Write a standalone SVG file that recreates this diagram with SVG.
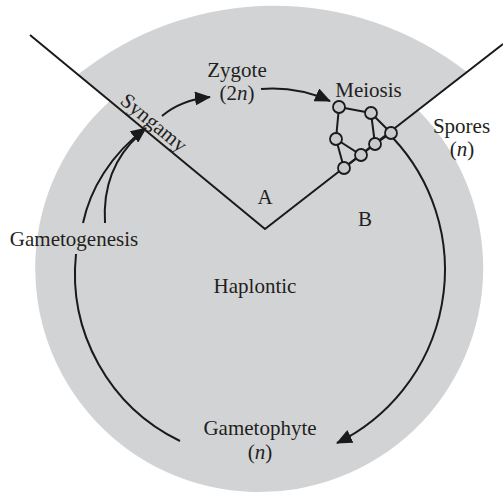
<svg xmlns="http://www.w3.org/2000/svg" width="503" height="496" viewBox="0 0 503 496">
<defs>
<style>
.ln{fill:none;stroke:#1a1a1a;stroke-width:2}
.ar{fill:none;stroke:#1a1a1a;stroke-width:2}
.nd{fill:#c9cacc;stroke:#1a1a1a;stroke-width:1.8}
.t{font-family:"Liberation Serif","Times New Roman",serif;font-size:21px;fill:#231f20;text-anchor:middle}
.i{font-style:italic}
</style>
<marker id="ah" markerWidth="16" markerHeight="14" refX="15" refY="7" orient="auto" markerUnits="userSpaceOnUse">
<path d="M0,0 L16,7 L0,14 Z" fill="#1a1a1a"/>
</marker>
</defs>
<rect width="503" height="496" fill="#ffffff"/>
<path id="haplontic-bg" d="M418,110.1 A224,224 0 1 1 110,101 L78,74.6 A314,314 0 0 1 467,72 Z" fill="#d2d3d5"/>

<g id="connectors">
<path class="ln" d="M30,35 L265,229 L503,44"/>
<path class="ar" d="M393,138 A193,193 0 0 1 337,443" marker-end="url(#ah)"/>
<path class="ar" d="M76,254 A186,186 0 0 0 180,441"/>
<path class="ar" d="M83,223 C90,190 110,155 146,128" marker-end="url(#ah)"/>
<path class="ar" d="M105,223 C103,190 113,158 140,134"/>
<path class="ar" d="M162,116 C175,105 190,99 210,97" marker-end="url(#ah)"/>
<path class="ar" d="M261,89 C285,87 310,92 330,101" marker-end="url(#ah)"/>
</g>

<g id="meiosis">
<path class="ln" d="M339,107 L371,113 M339,107 L336,139 L344,168 M336,139 L361,155 L375,144 M344,168 L361,155 M371,113 L375,144 M371,113 L391,133 M375,144 L391,133"/>
<circle class="nd" cx="339" cy="107" r="6"/>
<circle class="nd" cx="371" cy="113" r="6"/>
<circle class="nd" cx="336" cy="139" r="6"/>
<circle class="nd" cx="375" cy="144" r="6"/>
<circle class="nd" cx="361" cy="155" r="6"/>
<circle class="nd" cx="344" cy="168" r="6"/>
<circle class="nd" cx="391" cy="133" r="6"/>
<text class="t" x="368.5" y="97">Meiosis</text>
</g>

<g id="zygote">
<text class="t" x="237" y="77">Zygote</text>
<text class="t" x="237" y="100">(2<tspan class="i">n</tspan>)</text>
</g>

<g id="spores">
<text class="t" x="461.5" y="133">Spores</text>
<text class="t" x="462" y="156">(<tspan class="i">n</tspan>)</text>
</g>

<g id="gametophyte">
<text class="t" x="260" y="435">Gametophyte</text>
<text class="t" x="260" y="459">(<tspan class="i">n</tspan>)</text>
</g>

<g id="gametogenesis">
<text class="t" x="74" y="246">Gametogenesis</text>
</g>

<g id="syngamy">
<text class="t" transform="translate(147,131) rotate(39.4)" x="0" y="-4">Syngamy</text>
</g>

<g id="labels">
<text class="t" x="265" y="204">A</text>
<text class="t" x="365" y="226">B</text>
<text class="t" x="255" y="293">Haplontic</text>
</g>
</svg>
